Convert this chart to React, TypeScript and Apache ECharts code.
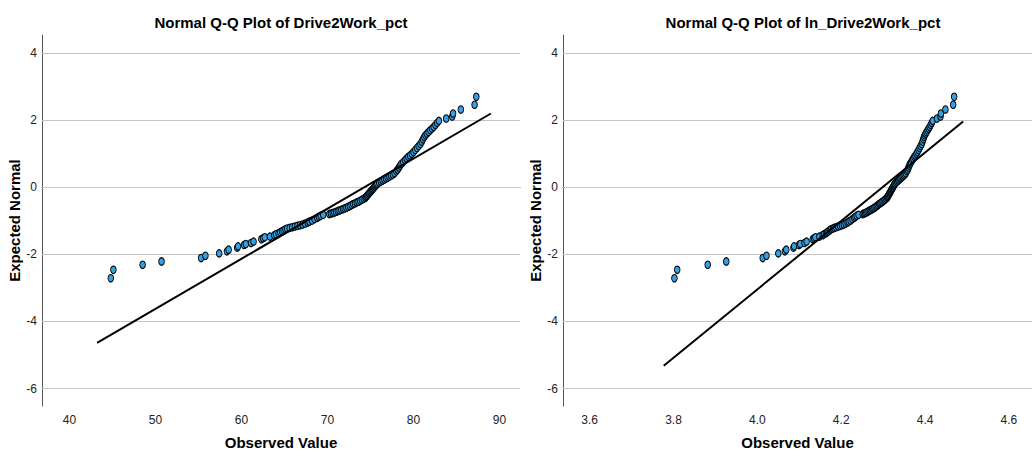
import React, { useEffect, useRef } from "react";
import * as echarts from "echarts";

// Expected normal values (shared rank order for both variables)
const expectedNormal = [
  -2.71, -2.46, -2.31, -2.21, -2.11, -2.04, -1.97, -1.91, -1.86, -1.8,
  -1.76, -1.72, -1.69, -1.66, -1.62, -1.55, -1.52, -1.49, -1.47, -1.43,
  -1.4, -1.37, -1.34, -1.31, -1.28, -1.25, -1.23, -1.21, -1.19, -1.17,
  -1.15, -1.13, -1.11, -1.08, -1.05, -1.02, -0.99, -0.95, -0.91, -0.88,
  -0.85, -0.82, -0.8, -0.78, -0.77, -0.75, -0.73, -0.71, -0.69, -0.67,
  -0.65, -0.63, -0.61, -0.58, -0.56, -0.53, -0.5, -0.48, -0.45, -0.43,
  -0.4, -0.37, -0.34, -0.31, -0.28, -0.25, -0.22, -0.19, -0.16, -0.13,
  -0.1, -0.07, -0.04, -0.01, 0.02, 0.05, 0.08, 0.11, 0.14, 0.17,
  0.2, 0.23, 0.26, 0.29, 0.32, 0.35, 0.38, 0.42, 0.48, 0.53,
  0.59, 0.65, 0.7, 0.75, 0.81, 0.86, 0.91, 0.95, 1.0, 1.05,
  1.11, 1.17, 1.23, 1.29, 1.36, 1.43, 1.5, 1.55, 1.6, 1.65,
  1.7, 1.75, 1.8, 1.86, 1.92, 1.98, 2.05, 2.11, 2.2, 2.32,
  2.46, 2.7,
];

// Observed Drive2Work_pct
const observedPct = [
  44.8, 45.1, 48.5, 50.7, 55.3, 55.8, 57.4, 58.3, 58.5, 59.5,
  59.6, 60.3, 60.5, 61.1, 61.4, 62.3, 62.5, 62.7, 63.3, 63.8,
  64.0, 64.3, 64.5, 64.7, 64.9, 65.1, 65.3, 65.6, 65.9, 66.2,
  66.5, 66.8, 67.1, 67.4, 67.7, 67.9, 68.2, 68.5, 68.8, 69.0,
  69.2, 69.5, 70.2, 70.4, 70.6, 70.8, 71.0, 71.2, 71.4, 71.6,
  71.8, 72.0, 72.2, 72.4, 72.6, 72.8, 73.0, 73.2, 73.4, 73.6,
  73.8, 74.0, 74.2, 74.4, 74.5, 74.6, 74.7, 74.8, 74.9, 75.0,
  75.1, 75.2, 75.3, 75.4, 75.5, 75.6, 75.7, 75.8, 76.0, 76.2,
  76.4, 76.6, 76.8, 77.0, 77.2, 77.4, 77.6, 77.8, 78.0, 78.15,
  78.3, 78.45, 78.6, 78.8, 79.0, 79.2, 79.4, 79.6, 79.8, 80.0,
  80.2, 80.4, 80.6, 80.8, 80.95, 81.1, 81.25, 81.4, 81.55, 81.75,
  81.95, 82.15, 82.35, 82.55, 82.75, 82.95, 83.8, 84.5, 84.6, 85.5,
  87.1, 87.3,
];

// Observed ln_Drive2Work_pct
const observedLn = [
  3.8022, 3.8089, 3.8816, 3.9259, 4.0128, 4.0218, 4.05, 4.0656, 4.069, 4.086,
  4.0877, 4.0993, 4.1026, 4.1125, 4.1174, 4.132, 4.1352, 4.1384, 4.1479, 4.1557,
  4.1589, 4.1636, 4.1667, 4.1698, 4.1728, 4.1759, 4.18, 4.1836, 4.1881, 4.1927,
  4.1972, 4.2017, 4.2062, 4.2106, 4.2151, 4.218, 4.2225, 4.2268, 4.2312, 4.2341,
  4.237, 4.2413, 4.2514, 4.2542, 4.257, 4.2599, 4.2627, 4.2655, 4.2683, 4.2711,
  4.2739, 4.2767, 4.2794, 4.2822, 4.285, 4.2877, 4.2905, 4.2932, 4.2959, 4.2986,
  4.3014, 4.3041, 4.3068, 4.3095, 4.3108, 4.3121, 4.3135, 4.3148, 4.3162, 4.3175,
  4.3188, 4.3202, 4.3215, 4.3228, 4.3241, 4.3255, 4.3268, 4.3281, 4.3307, 4.3334,
  4.336, 4.3386, 4.3412, 4.3438, 4.3464, 4.349, 4.3516, 4.3542, 4.3567, 4.3586,
  4.3605, 4.3625, 4.3644, 4.3669, 4.3694, 4.372, 4.3745, 4.377, 4.3795, 4.382,
  4.3845, 4.387, 4.3895, 4.392, 4.3938, 4.3957, 4.3975, 4.3994, 4.4012, 4.4037,
  4.4061, 4.4085, 4.411, 4.4134, 4.4158, 4.4182, 4.4284, 4.4368, 4.4379, 4.4485,
  4.4671, 4.4694,
];

// Reference (normal) lines: endpoints
const refLinePctX = [43.2, 89.0];
const refLinePctY = [-4.64, 2.2];
const refLineLnX = [3.7767, 4.4907];
const refLineLnY = [-5.32, 1.96];

// Tick labels
const ticksPct = [40, 50, 60, 70, 80, 90];
const ticksLn = [3.6, 3.8, 4.0, 4.2, 4.4, 4.6];
const ticksY = [-6, -4, -2, 0, 2, 4];

const titles = [
  "Normal Q-Q Plot of Drive2Work_pct",
  "Normal Q-Q Plot of ln_Drive2Work_pct",
];

const FONT = "'Liberation Sans', Arial, sans-serif";

export default function App() {
  const ref = useRef<HTMLDivElement>(null);

  useEffect(() => {
    if (!ref.current) return;
    const chart = echarts.init(ref.current, null, { renderer: "svg" });

    const pts = (xs: number[]) => xs.map((x, i) => [x, expectedNormal[i]]);
    const line = (xs: number[], ys: number[]) => xs.map((x, i) => [x, ys[i]]);

    const xAxisBase = (min: number, max: number, ticks: number[], gridIndex: number, fmt: (v: number) => string) => ({
      type: "value",
      gridIndex,
      min,
      max,
      name: "Observed Value",
      nameLocation: "middle",
      nameGap: 29,
      nameTextStyle: { fontFamily: FONT, fontSize: 15, fontWeight: "bold", color: "#000" },
      axisLine: { show: true, lineStyle: { color: "#555", width: 1 } },
      axisTick: { show: false },
      splitLine: { show: false },
      axisLabel: {
        customValues: ticks,
        formatter: fmt,
        fontFamily: FONT,
        fontSize: 12,
        color: "#222",
        margin: 8,
      },
    });

    const yAxisBase = (gridIndex: number) => ({
      type: "value",
      gridIndex,
      min: -6.52,
      max: 4.54,
      name: "Expected Normal",
      nameLocation: "middle",
      nameGap: 14,
      nameTextStyle: { fontFamily: FONT, fontSize: 15, fontWeight: "bold", color: "#000" },
      axisLine: { show: true, lineStyle: { color: "#555", width: 1 } },
      axisTick: { show: false },
      splitLine: { show: false },
      axisLabel: {
        customValues: ticksY,
        formatter: (v: number) => String(v),
        fontFamily: FONT,
        fontSize: 12,
        color: "#222",
        margin: 5,
      },
    });

    const gridLines = (idx: number) => ({
      type: "line",
      xAxisIndex: idx,
      yAxisIndex: idx,
      data: [],
      silent: true,
      z: 1,
      markLine: {
        silent: true,
        symbol: "none",
        z: 1,
        label: { show: false },
        lineStyle: { color: "#c4c4c4", type: "solid", width: 1 },
        emphasis: { disabled: true },
        data: ticksY.map((v) => ({ yAxis: v })),
      },
    });

    const scatter = (idx: number, xs: number[]) => ({
      type: "scatter",
      xAxisIndex: idx,
      yAxisIndex: idx,
      data: pts(xs),
      symbol: "circle",
      symbolSize: [5.6, 7.4],
      z: 3,
      itemStyle: { color: "#35a0e6", borderColor: "#000", borderWidth: 1, opacity: 1 },
      emphasis: { disabled: true },
    });

    const refLine = (idx: number, xs: number[], ys: number[]) => ({
      type: "line",
      xAxisIndex: idx,
      yAxisIndex: idx,
      data: line(xs, ys),
      symbol: "none",
      z: 4,
      lineStyle: { color: "#000", width: 2 },
      emphasis: { disabled: true },
    });

    chart.setOption({
      animation: false,
      backgroundColor: "#fff",
      title: [
        {
          text: titles[0],
          left: 281,
          top: 15,
          textAlign: "center",
          padding: 0,
          textStyle: { fontFamily: FONT, fontSize: 15, fontWeight: "bold", color: "#000" },
        },
        {
          text: titles[1],
          left: 803,
          top: 15,
          textAlign: "center",
          padding: 0,
          textStyle: { fontFamily: FONT, fontSize: 15, fontWeight: "bold", color: "#000" },
        },
      ],
      grid: [
        { left: 42, top: 35, width: 478, height: 376 },
        { left: 563, top: 35, width: 481, height: 376 },
      ],
      xAxis: [
        xAxisBase(36.8, 92.38, ticksPct, 0, (v: number) => String(v)),
        xAxisBase(3.5365, 4.655, ticksLn, 1, (v: number) => v.toFixed(1)),
      ],
      yAxis: [yAxisBase(0), yAxisBase(1)],
      series: [
        gridLines(0),
        gridLines(1),
        scatter(0, observedPct),
        scatter(1, observedLn),
        refLine(0, refLinePctX, refLinePctY),
        refLine(1, refLineLnX, refLineLnY),
      ],
    });

    return () => chart.dispose();
  }, []);

  return (
    <div
      ref={ref}
      style={{ position: "fixed", left: 0, top: 0, width: 1032, height: 455, background: "#fff" }}
    />
  );
}
